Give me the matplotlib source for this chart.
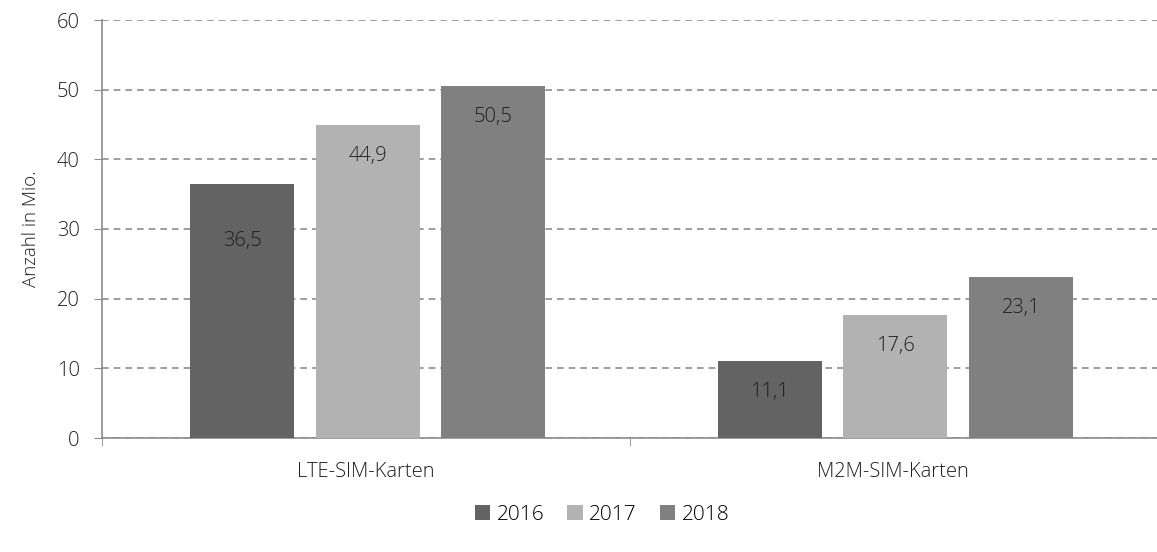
import numpy as np
import matplotlib.pyplot as plt

plt.rcParams['font.family'] = ['Open Sans', 'DejaVu Sans']

categories = ['LTE-SIM-Karten', 'M2M-SIM-Karten']
years = ['2016', '2017', '2018']
werte_2016 = [36.5, 11.1]
werte_2017 = [44.9, 17.6]
werte_2018 = [50.5, 23.1]
farben = ['#636363', '#b2b2b2', '#808080']

fig = plt.figure(figsize=(11.57, 5.52), dpi=100)
ax = fig.add_axes([102 / 1157, 1 - 438 / 552, 1 - 102 / 1157, 418 / 552])

x = np.arange(len(categories))
breite = 0.197
abstand = 0.238
serien = [werte_2016, werte_2017, werte_2018]
textfarbe = '#1e1e1e'

for i, (werte, farbe, jahr) in enumerate(zip(serien, farben, years)):
    bars = ax.bar(x + (i - 1) * abstand + 0.004, werte, breite, color=farbe, label=jahr, zorder=3)
    for b, v in zip(bars, werte):
        off = -57 if v == 36.5 else -31
        ax.annotate(f'{v:.1f}'.replace('.', ','), (b.get_x() + b.get_width() / 2, v),
                    xytext=(0, off), textcoords='offset pixels', ha='center', va='center',
                    fontsize=14.5, color=textfarbe, fontweight='light', zorder=4)

ax.set_xlim(-0.5, 1.5)
ax.set_ylim(0, 60)
ax.set_yticks(range(0, 61, 10))
ax.set_xticks(x)
ax.set_xticklabels(categories, fontweight='light')
ax.set_xticks([-0.5, 0.5, 1.5], minor=True)
ax.tick_params(axis='x', which='major', length=0, pad=17, labelsize=14.5, labelcolor=textfarbe)
ax.tick_params(axis='x', which='minor', length=6, color='#8c8c8c')
ax.tick_params(axis='y', length=6, color='#8c8c8c', labelsize=14.5, labelcolor=textfarbe, pad=10)
for t in ax.get_yticklabels():
    t.set_fontweight('light')
ax.yaxis.grid(True, linestyle=(0, (4, 3)), color='#8c8c8c', linewidth=1.2, zorder=0)
for s in ['top', 'right']:
    ax.spines[s].set_visible(False)
for s in ['left', 'bottom']:
    ax.spines[s].set_color('#8c8c8c')
    ax.spines[s].set_linewidth(1.2)
ax.set_ylabel('Anzahl in Mio.', fontsize=13.5, color=textfarbe, fontweight='light', labelpad=12)

fig.legend(loc='center', bbox_to_anchor=(602 / 1157, 1 - 515 / 552), ncol=3, frameon=False,
           prop={'size': 15, 'weight': 'light'}, handlelength=0.75, handleheight=0.75,
           handletextpad=0.3, columnspacing=1.1)

fig.savefig('out.png', dpi=100)
